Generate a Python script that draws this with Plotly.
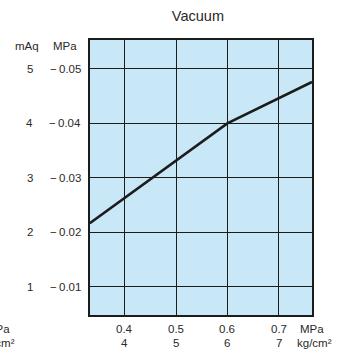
import plotly.graph_objects as go

# Data
supply_mpa = [0.332, 0.6, 0.765]
vacuum_maq = [2.17, 4.0, 4.76]

x_tick_mpa = [0.4, 0.5, 0.6, 0.7]
x_tick_kgcm2 = ["4", "5", "6", "7"]
y_tick_maq = [1, 2, 3, 4, 5]
y_tick_mpa = ["\u2212\u20090.01", "\u2212\u20090.02", "\u2212\u20090.03", "\u2212\u20090.04", "\u2212\u20090.05"]

FONT = "Liberation Sans, Arial, sans-serif"
TXT = "#2a2a2a"
DARK = "#1c1c1c"
FS = 11.5


def txt(**kw):
    d = dict(showarrow=False, font=dict(family=FONT, size=FS, color=TXT))
    d.update(kw)
    return d


fig = go.Figure()
fig.add_trace(go.Scatter(
    x=supply_mpa, y=vacuum_maq, mode="lines",
    line=dict(color=DARK, width=2.6), showlegend=False, hoverinfo="skip",
))

annotations = []
for v, lab in zip(y_tick_maq, y_tick_mpa):
    annotations.append(txt(xref="paper", yref="y", x=0, y=v, text=lab,
                           xanchor="right", yanchor="middle", xshift=-7))
    annotations.append(txt(xref="paper", yref="y", x=0, y=v, text=str(v),
                           xanchor="right", yanchor="middle", xshift=-55))
annotations.append(txt(xref="paper", yref="paper", x=0, y=1, text="MPa",
                       xanchor="right", yanchor="middle", xshift=-11, yshift=-6))
annotations.append(txt(xref="paper", yref="paper", x=0, y=1, text="mAq",
                       xanchor="right", yanchor="middle", xshift=-49, yshift=-6))
for m, k in zip(x_tick_mpa, x_tick_kgcm2):
    annotations.append(txt(xref="x", yref="paper", x=m, y=0, text=str(m),
                           xanchor="center", yanchor="middle", yshift=-14))
    annotations.append(txt(xref="x", yref="paper", x=m, y=0, text=k,
                           xanchor="center", yanchor="middle", yshift=-28))
annotations.append(txt(xref="paper", yref="paper", x=1, y=0, text="MPa",
                       xanchor="center", yanchor="middle", xshift=0, yshift=-14))
annotations.append(txt(xref="paper", yref="paper", x=1, y=0, text="kg/cm\u00b2",
                       xanchor="center", yanchor="middle", xshift=2, yshift=-28))
annotations.append(txt(xref="paper", yref="paper", x=0, y=0, text="MPa",
                       xanchor="right", yanchor="middle", xshift=-78, yshift=-14))
annotations.append(txt(xref="paper", yref="paper", x=0, y=0, text="kg/cm\u00b2",
                       xanchor="right", yanchor="middle", xshift=-73, yshift=-28))

fig.update_layout(
    width=346, height=358,
    margin=dict(l=90, r=34, t=40, b=43),
    paper_bgcolor="white", plot_bgcolor="#c8e8f8",
    title=dict(text="Vacuum", x=0.572, xanchor="center", y=0.955, yanchor="middle",
               font=dict(family=FONT, size=14.5, color=TXT)),
    annotations=annotations,
    xaxis=dict(range=[0.3324, 0.765], tickvals=x_tick_mpa, showticklabels=False,
               showgrid=True, gridcolor=DARK, gridwidth=1.4, zeroline=False,
               showline=True, mirror=True, linecolor=DARK, linewidth=2, ticks=""),
    yaxis=dict(range=[0.486, 5.53], tickvals=y_tick_maq, showticklabels=False,
               showgrid=True, gridcolor=DARK, gridwidth=1.4, zeroline=False,
               showline=True, mirror=True, linecolor=DARK, linewidth=2, ticks=""),
)

fig.write_html(
    "out.html",
    config={"displayModeBar": False},
    post_script="document.body.style.margin='0';document.body.style.overflow='hidden';",
)
